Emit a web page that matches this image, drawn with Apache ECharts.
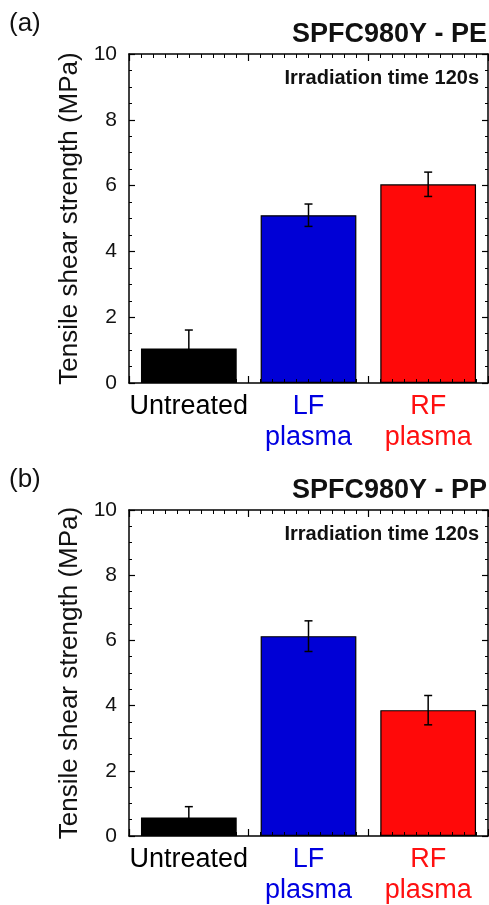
<!DOCTYPE html>
<html>
<head>
<meta charset="utf-8">
<script src="https://cdn.jsdelivr.net/npm/echarts@6/dist/echarts.min.js"></script>
<style>
  html, body { margin: 0; padding: 0; background: #fff; }
  #chart { width: 489px; height: 905px; }
</style>
</head>
<body>
<div id="chart"></div>
<script>
// categories + colours
const categories = ['Untreated', 'LF\nplasma', 'RF\nplasma']
const barColors = ['#000000', '#0000d6', '#ff0909']
const labelColors = ['#000000', '#0000e0', '#ff1010']

// (a) SPFC980Y - PE
const peMean = [1.05, 5.10, 6.04]
const peErrHigh = [1.61, 5.44, 6.41]
const peErrLow = [0.49, 4.76, 5.67]

// (b) SPFC980Y - PP
const ppMean = [0.57, 6.13, 3.86]
const ppErrHigh = [0.90, 6.60, 4.31]
const ppErrLow = [0.24, 5.66, 3.41]

const FONT = '"Liberation Sans", Arial, sans-serif'
const line = { color: '#000', width: 1.5 }

const grid = []
const xAxis = []
const yAxis = []
const series = []

function frameX(gi, pos) {
  return {
    gridIndex: gi,
    type: 'value',
    position: pos,
    min: 0,
    max: 3,
    interval: 1,
    z: 5,
    axisLine: { show: true, onZero: false, lineStyle: line },
    axisTick: { show: true, inside: true, length: 7, lineStyle: { color: '#000', width: 1.2 } },
    minorTick: { show: true, splitNumber: 10, length: 4, lineStyle: { color: '#000', width: 1 } },
    axisLabel: { show: false },
    splitLine: { show: false },
  }
}

function frameY(gi, pos, withLabels) {
  return {
    gridIndex: gi,
    type: 'value',
    position: pos,
    min: 0,
    max: 10,
    interval: 2,
    z: 5,
    name: withLabels ? 'Tensile shear strength (MPa)' : '',
    nameLocation: 'middle',
    nameGap: 45,
    nameTextStyle: { fontFamily: FONT, fontSize: 26, color: '#111' },
    axisLine: { show: true, onZero: false, lineStyle: line },
    axisTick: { show: true, inside: true, length: 6, lineStyle: { color: '#000', width: 1.2 } },
    minorTick: { show: true, splitNumber: 4, length: 3, lineStyle: { color: '#000', width: 1 } },
    axisLabel: { show: withLabels, fontFamily: FONT, fontSize: 21, color: '#111', margin: 12 },
    splitLine: { show: false },
  }
}

function panel(k, top, height, mean, lo, hi) {
  const g0 = 2 * k
  const g1 = 2 * k + 1
  grid.push({ left: 129, top: top, width: 359, height: height })
  grid.push({ left: 129, top: top, width: 359, height: height })

  xAxis.push(frameX(g0, 'bottom'))
  xAxis.push(frameX(g0, 'top'))
  xAxis.push({
    gridIndex: g1,
    type: 'category',
    data: categories,
    axisLine: { show: false },
    axisTick: { show: false },
    splitLine: { show: false },
    axisLabel: {
      margin: 8,
      interval: 0,
      formatter(val, idx) {
        return val.split('\n').map((s) => `{c${idx}|${s}}`).join('\n')
      },
      rich: {
        c0: { color: labelColors[0], fontFamily: FONT, fontSize: 27, lineHeight: 31 },
        c1: { color: labelColors[1], fontFamily: FONT, fontSize: 27, lineHeight: 31 },
        c2: { color: labelColors[2], fontFamily: FONT, fontSize: 27, lineHeight: 31 },
      },
    },
  })

  yAxis.push(frameY(g0, 'left', true))
  yAxis.push(frameY(g0, 'right', false))
  yAxis.push({ gridIndex: g1, type: 'value', min: 0, max: 10, show: false })

  const ax = 3 * k + 2
  series.push({
    type: 'bar',
    xAxisIndex: ax,
    yAxisIndex: ax,
    barWidth: '80%',
    z: 2,
    data: mean.map((v, i) => ({
      value: v,
      itemStyle: { color: barColors[i], borderColor: '#000', borderWidth: 1.2 },
    })),
  })
  series.push({
    type: 'custom',
    xAxisIndex: ax,
    yAxisIndex: ax,
    z: 6,
    encode: { x: 0, y: [1, 2] },
    data: mean.map((v, i) => [i, lo[i], hi[i]]),
    renderItem(params, api) {
      const i = api.value(0)
      const pHi = api.coord([i, api.value(2)])
      const pLo = api.coord([i, api.value(1)])
      const w = 4
      const st = { stroke: '#000', lineWidth: 1.5 }
      return {
        type: 'group',
        children: [
          { type: 'line', shape: { x1: pHi[0], y1: pHi[1], x2: pLo[0], y2: pLo[1] }, style: st },
          { type: 'line', shape: { x1: pHi[0] - w, y1: pHi[1], x2: pHi[0] + w, y2: pHi[1] }, style: st },
          { type: 'line', shape: { x1: pLo[0] - w, y1: pLo[1], x2: pLo[0] + w, y2: pLo[1] }, style: st },
        ],
      }
    },
  })
}

panel(0, 54, 329, peMean, peErrLow, peErrHigh)
panel(1, 510, 326, ppMean, ppErrLow, ppErrHigh)

function titles(tag, name, dy) {
  return [
    { text: tag, left: 9, top: 11 + dy, padding: 0,
      textStyle: { fontFamily: FONT, fontSize: 26, fontWeight: 'normal', color: '#111' } },
    { text: name, right: 2, top: 21 + dy, padding: 0,
      textStyle: { fontFamily: FONT, fontSize: 27, fontWeight: 'bold', color: '#111' } },
    { text: 'Irradiation time 120s', right: 10, top: 68 + dy, padding: 0,
      textStyle: { fontFamily: FONT, fontSize: 20, fontWeight: 'bold', color: '#111' } },
  ]
}

const chart = echarts.init(document.getElementById('chart'), null, { renderer: 'canvas' })
chart.setOption({
  animation: false,
  backgroundColor: '#fff',
  title: titles('(a)', 'SPFC980Y - PE', 0).concat(titles('(b)', 'SPFC980Y - PP', 456)),
  grid: grid,
  xAxis: xAxis,
  yAxis: yAxis,
  series: series,
})
</script>
</body>
</html>
